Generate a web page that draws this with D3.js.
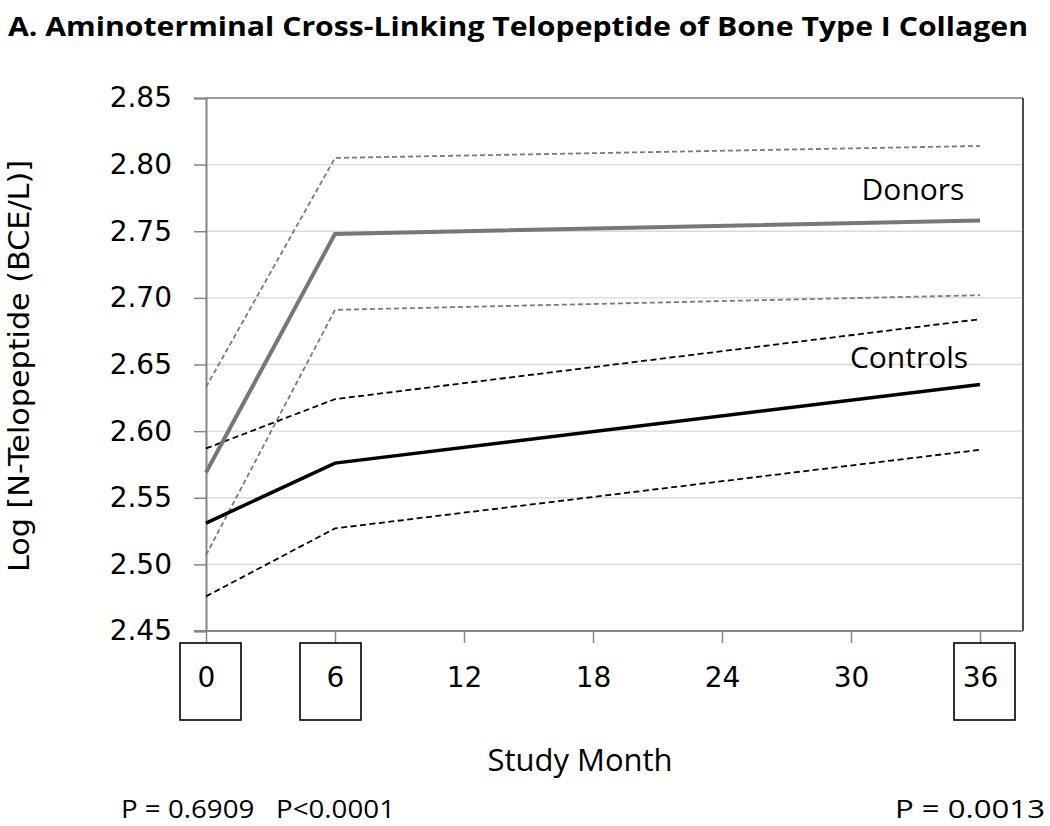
<!DOCTYPE html>
<html><head><meta charset="utf-8">
<script src="https://cdn.jsdelivr.net/npm/d3@7"></script>
<style>body{margin:0;background:#fff}svg{display:block}</style>
</head><body>
<script>
const months = [0, 6, 36];
const xTicks = [0, 6, 12, 18, 24, 30, 36];
const boxedTicks = [0, 6, 36];
const yTicks = [2.45, 2.50, 2.55, 2.60, 2.65, 2.70, 2.75, 2.80, 2.85];
const donorsMean = [2.569, 2.748, 2.758];
const donorsUpper = [2.633, 2.805, 2.814];
const donorsLower = [2.507, 2.691, 2.702];
const controlsMean = [2.531, 2.576, 2.635];
const controlsUpper = [2.587, 2.624, 2.684];
const controlsLower = [2.476, 2.527, 2.586];
const pValues = [
  {text: "P = 0.6909   P<0.0001", anchor: "start", pos: 121, len: 274},
  {text: "P = 0.0013", anchor: "end", pos: 1045, len: 150}
];

const W = 1050, H = 826;
const svg = d3.select("body").append("svg").attr("width", W).attr("height", H);
const x = d3.scaleLinear().domain([0, 38]).range([206, 1023]);
const y = d3.scaleLinear().domain([2.45, 2.85]).range([631, 98]);

// title
svg.append("text").attr("x", 8).attr("y", 36)
  .attr("font-family", "Open Sans").attr("font-weight", "bold").attr("font-size", 27)
  .attr("textLength", 1020).attr("lengthAdjust", "spacingAndGlyphs")
  .text("A. Aminoterminal Cross-Linking Telopeptide of Bone Type I Collagen");

// gridlines
svg.append("g").selectAll("line").data(yTicks.slice(1, -1)).join("line")
  .attr("x1", x(0)).attr("x2", x(38)).attr("y1", d => y(d)).attr("y2", d => y(d))
  .attr("stroke", "#d9d9d9").attr("stroke-width", 1.3);

// plot border top/right
svg.append("path")
  .attr("d", `M${x(0)},${y(2.85)}H${x(38)}`)
  .attr("fill", "none").attr("stroke", "#7a7a7a").attr("stroke-width", 1.5);
svg.append("path")
  .attr("d", `M${x(38)},${y(2.85)}V${y(2.45)}`)
  .attr("fill", "none").attr("stroke", "#3a3a3a").attr("stroke-width", 1.8);

// y axis
const yAxis = d3.axisLeft(y).tickValues(yTicks).tickFormat(d3.format(".2f")).tickSize(12).tickPadding(22);
const gy = svg.append("g").attr("transform", `translate(${x(0)},0)`).call(yAxis);
gy.select(".domain").attr("stroke", "#868686").attr("stroke-width", 2);
gy.selectAll(".tick line").attr("stroke", "#868686").attr("stroke-width", 1.5);
gy.selectAll(".tick text").attr("font-family", "DejaVu Sans").attr("font-size", 28).attr("fill", "#000");

// x axis
const xAxis = d3.axisBottom(x).tickValues(xTicks).tickFormat(d3.format("d")).tickSize(12).tickPadding(24);
const gx = svg.append("g").attr("transform", `translate(0,${y(2.45)})`).call(xAxis);
gx.select(".domain").remove();
svg.append("line").attr("x1", 194).attr("x2", x(38)).attr("y1", y(2.45)).attr("y2", y(2.45))
  .attr("stroke", "#868686").attr("stroke-width", 2);
gx.selectAll(".tick line").attr("stroke", "#868686").attr("stroke-width", 1.5);
gx.selectAll(".tick text").attr("font-family", "DejaVu Sans").attr("font-size", 28).attr("fill", "#000");

// boxes around selected ticks
svg.append("g").selectAll("rect").data(boxedTicks).join("rect")
  .attr("x", d => x(d) - (d === 6 ? 35 : 26)).attr("y", 643)
  .attr("width", 61).attr("height", 77)
  .attr("fill", "none").attr("stroke", "#000").attr("stroke-width", 1.6);

// y label
svg.append("text").attr("transform", "translate(29,366) rotate(-90)")
  .attr("text-anchor", "middle").attr("font-family", "DejaVu Sans").attr("font-size", 28)
  .attr("textLength", 412).attr("lengthAdjust", "spacingAndGlyphs")
  .text("Log [N-Telopeptide (BCE/L)]");

// x label
svg.append("text").attr("x", 580).attr("y", 771).attr("text-anchor", "middle")
  .attr("font-family", "Open Sans").attr("font-size", 31).text("Study Month");

// p values
svg.append("g").selectAll("text").data(pValues).join("text")
  .attr("x", d => d.pos).attr("y", 818).attr("text-anchor", d => d.anchor)
  .attr("font-family", "Open Sans").attr("font-size", 26)
  .attr("textLength", d => d.len).attr("lengthAdjust", "spacingAndGlyphs")
  .style("white-space", "pre").text(d => d.text);

const line = d3.line().x((d, i) => x(months[i])).y(d => y(d));
const series = [
  {v: donorsUpper, c: "#7a7a7a", w: 1.8, dash: "5,3"},
  {v: donorsLower, c: "#7a7a7a", w: 1.8, dash: "5,3"},
  {v: controlsUpper, c: "#000", w: 1.8, dash: "6,3.5"},
  {v: controlsLower, c: "#000", w: 1.8, dash: "6,3.5"},
  {v: donorsMean, c: "#777", w: 4, dash: null},
  {v: controlsMean, c: "#000", w: 3.5, dash: null}
];
svg.append("g").selectAll("path").data(series).join("path")
  .attr("d", d => line(d.v)).attr("fill", "none").attr("stroke", d => d.c)
  .attr("stroke-width", d => d.w).attr("stroke-dasharray", d => d.dash);

// series labels
svg.append("text").attr("x", 913).attr("y", 200).attr("text-anchor", "middle")
  .attr("font-family", "Open Sans").attr("font-size", 30).text("Donors");
svg.append("text").attr("x", 909).attr("y", 368).attr("text-anchor", "middle")
  .attr("font-family", "Open Sans").attr("font-size", 30).text("Controls");
</script>
</body></html>
